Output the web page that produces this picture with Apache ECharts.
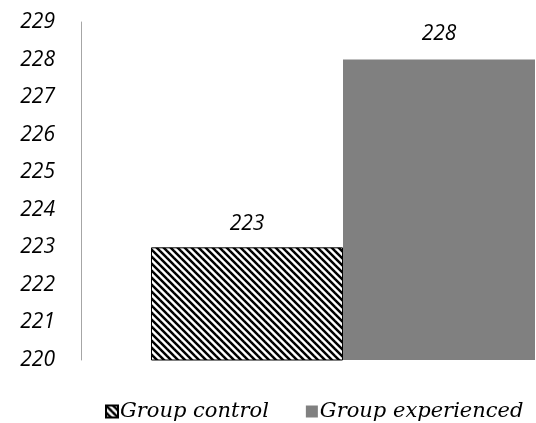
<!DOCTYPE html>
<html>
<head>
<meta charset="utf-8">
<script src="https://cdn.jsdelivr.net/npm/echarts@6/dist/echarts.min.js"></script>
<style>
  html, body { margin: 0; padding: 0; background: #fff; }
  #chart { width: 536px; height: 423px; }
</style>
</head>
<body>
<div id="chart"></div>
<script>
// Chart data
const categories = [''];
const seriesNames = ['Group control', 'Group experienced'];
const controlValues = [223];
const experiencedValues = [228];
const yTicks = { min: 220, max: 229, step: 1 };

// Diagonal hatch fill for the control bar
function makeHatch(size, width) {
  const c = document.createElement('canvas');
  c.width = size; c.height = size;
  const ctx = c.getContext('2d');
  ctx.fillStyle = '#fff';
  ctx.fillRect(0, 0, size, size);
  ctx.strokeStyle = '#000';
  ctx.lineWidth = width;
  for (let k = -1; k <= 1; k++) {
    ctx.beginPath();
    ctx.moveTo(k * size - 1, -1);
    ctx.lineTo(k * size + size + 1, size + 1);
    ctx.stroke();
  }
  return c;
}
const hatch = { image: makeHatch(7, 2.5), repeat: 'repeat' };

const labelFont = {
  fontFamily: 'Open Sans',
  fontStyle: 'italic',
  fontWeight: 'normal',
  fontSize: 21,
  color: '#000'
};

const chart = echarts.init(document.getElementById('chart'), null, { renderer: 'canvas' });
chart.setOption({
  animation: false,
  backgroundColor: '#fff',
  // plot area runs past the right edge so the bar pair sits right of centre
  grid: {
    left: 81, width: 524, top: 22, bottom: 63,
    containLabel: false,
    outerBoundsMode: 'none'
  },
  legend: {
    data: seriesNames,
    left: 100,
    top: 396,
    icon: 'rect',
    itemWidth: 12,
    itemHeight: 12,
    itemGap: 37,
    textStyle: {
      fontFamily: 'DejaVu Serif',
      fontStyle: 'italic',
      fontSize: 21,
      color: '#000',
      padding: [0, 0, 0, -3]
    }
  },
  xAxis: {
    type: 'category',
    data: categories,
    axisLine: { show: false },
    axisTick: { show: false },
    axisLabel: { show: false },
    splitLine: { show: false }
  },
  yAxis: {
    type: 'value',
    min: yTicks.min,
    max: yTicks.max,
    interval: yTicks.step,
    axisLine: { show: true, lineStyle: { color: '#a6a6a6', width: 1 } },
    axisTick: { show: false },
    splitLine: { show: false },
    axisLabel: Object.assign({ margin: 26 }, labelFont)
  },
  series: [
    {
      name: seriesNames[0],
      type: 'bar',
      data: controlValues,
      barWidth: 192,
      barGap: '0%',
      itemStyle: { color: hatch, borderColor: '#000', borderWidth: 1 },
      label: Object.assign({ show: true, position: 'top', distance: 13 }, labelFont)
    },
    {
      name: seriesNames[1],
      type: 'bar',
      data: experiencedValues,
      barWidth: 192,
      barGap: '0%',
      itemStyle: { color: '#808080' },
      label: Object.assign({ show: true, position: 'top', distance: 15 }, labelFont)
    }
  ]
});
</script>
</body>
</html>
